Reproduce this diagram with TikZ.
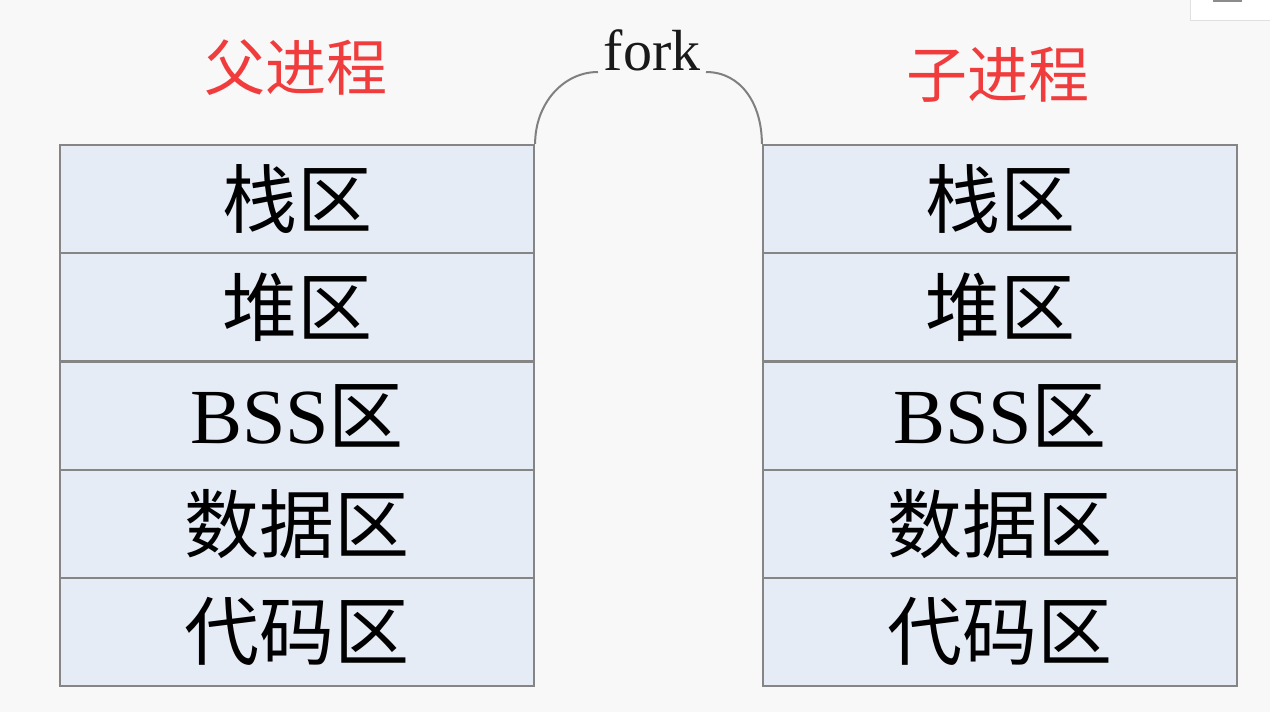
\documentclass[tikz,border=0pt]{standalone}
\usepackage{fontspec}
\setmainfont{Liberation Serif}
\newfontfamily\cjk{Noto Sans CJK SC}
\definecolor{bg}{HTML}{F8F8F8}
\definecolor{cellfill}{HTML}{E6ECF6}
\definecolor{cellline}{HTML}{858585}
\definecolor{titlered}{HTML}{F03C3C}
\definecolor{curvegray}{HTML}{808080}
\tikzset{
  cell/.style={draw=cellline, line width=2.2pt, fill=cellfill, minimum width=474pt, minimum height=108.2pt, inner sep=0pt, anchor=center, font=\fontsize{75}{75}\selectfont\cjk},
  title/.style={text=titlered, font=\fontsize{61}{61}\selectfont\cjk, inner sep=0pt},
  forklabel/.style={font=\fontsize{58}{58}\selectfont, inner sep=0pt, text=black!90},
  forkline/.style={draw=curvegray, line width=2pt}
}
\begin{document}
\begin{tikzpicture}[x=1pt,y=-1pt]
\fill[bg] (0,0) rectangle (1270,712);
\useasboundingbox (0,0) rectangle (1270,712);
\fill[white] (1190,-2) rectangle (1272,20);
\draw[black!12, line width=0.8pt] (1190,-2) -- (1190,20) -- (1272,20);
\draw[black!45, line width=1.2pt] (1213,1) -- (1242,1);
% titles
\node[title] (ptitle) at (296,68) {父进程};
\node[title] (ctitle) at (998,75) {子进程};
% left stack
\node[cell] (L1) at (297,199.1) {栈区};
\node[cell] (L2) at (297,307.3) {堆区};
\node[cell] (L3) at (297,415.5) {{\fontsize{78}{78}\selectfont\rmfamily BSS}区};
\node[cell] (L4) at (297,523.7) {数据区};
\node[cell] (L5) at (297,631.9) {代码区};
% right stack
\node[cell] (R1) at (1000,199.1) {栈区};
\node[cell] (R2) at (1000,307.3) {堆区};
\node[cell] (R3) at (1000,415.5) {{\fontsize{78}{78}\selectfont\rmfamily BSS}区};
\node[cell] (R4) at (1000,523.7) {数据区};
\node[cell] (R5) at (1000,631.9) {代码区};
% fork
\node[forklabel] (fork) at (652,50) {fork};
\coordinate (forkL) at (598,72);
\coordinate (forkR) at (706,72);
\draw[forkline] (L1.north east) .. controls +(0,-40) and +(-35,0) .. (forkL);
\draw[forkline] (R1.north west) .. controls +(0,-40) and +(35,0) .. (forkR);
\end{tikzpicture}
\end{document}
